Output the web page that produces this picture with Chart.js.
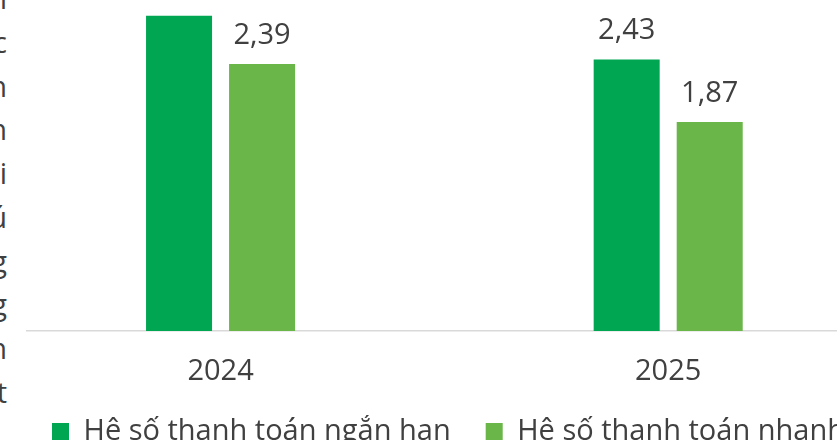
<!DOCTYPE html>
<html><head><meta charset="utf-8">
<script src="https://cdn.jsdelivr.net/npm/chart.js@4/dist/chart.umd.min.js"></script>
<style>
html,body{margin:0;padding:0;background:#fff;overflow:hidden;width:837px;height:440px;position:relative;}
#c{position:absolute;left:-20px;top:-40px;}
#side{position:absolute;left:0;top:0;width:26px;height:440px;background:#fff;overflow:hidden;z-index:2;}
#side div{position:absolute;right:19px;font-family:"Open Sans";font-size:29px;color:#404040;white-space:nowrap;line-height:1;}
</style></head><body>
<canvas id="c" width="937" height="496"></canvas>
<div id="side"></div>
<script>
const categories = ['2024', '2025'];
const seriesNames = ['Hệ số thanh toán ngắn hạn', 'Hệ số thanh toán nhanh'];
const shortTerm = [2.82, 2.43];
const quick = [2.39, 1.87];
const seriesColors = ['#00A651', '#6AB648'];
const sideLetters = ['n', 'c', 'n', 'n', 'i', 'ú', 'g', 'g', 'n', 't'];

const side = document.getElementById('side');
sideLetters.forEach((ch, i) => {
  const d = document.createElement('div');
  d.textContent = ch;
  d.style.top = (i * 43.75 - 17) + 'px';
  side.appendChild(d);
});

const FONT = '"Open Sans"';
const TEXT = '#404040';

const valueLabels = {
  id: 'valueLabels',
  afterDatasetsDraw(chart) {
    const ctx = chart.ctx;
    ctx.save();
    ctx.font = '29px ' + FONT;
    ctx.fillStyle = TEXT;
    ctx.textAlign = 'center';
    ctx.textBaseline = 'alphabetic';
    chart.data.datasets.forEach((ds, di) => {
      chart.getDatasetMeta(di).data.forEach((el, i) => {
        const v = ds.data[i];
        ctx.fillText(v.toFixed(2).replace('.', ','), el.x, el.y - 20);
      });
    });
    ctx.restore();
  }
};

const chart = new Chart(document.getElementById('c'), {
  type: 'bar',
  data: {
    labels: categories,
    datasets: [
      { label: seriesNames[0], data: shortTerm, backgroundColor: seriesColors[0] },
      { label: seriesNames[1], data: quick, backgroundColor: seriesColors[1] }
    ]
  },
  options: {
    responsive: false,
    animation: false,
    devicePixelRatio: 1,
    layout: { padding: 0 },
    datasets: { bar: { categoryPercentage: 0.371, barPercentage: 0.795 } },
    plugins: {
      tooltip: { enabled: false },
      legend: {
        position: 'bottom',
        labels: {
          font: { family: FONT, size: 29 },
          color: TEXT,
          boxWidth: 17,
          boxHeight: 17,
          padding: 35
        }
      }
    },
    scales: {
      x: {
        grid: { display: false, drawTicks: false },
        border: { display: true, color: '#d9d9d9', width: 1.5 },
        ticks: { font: { family: FONT, size: 29 }, color: TEXT, padding: 23 },
        afterFit(s) { s.height = 51; }
      },
      y: {
        min: 0, max: 3.32,
        afterFit(s) { s.width = 16.75; },
        ticks: { display: false },
        grid: { display: false },
        border: { display: false }
      },
      yRight: {
        position: 'right',
        display: true,
        afterFit(s) { s.width = 25; },
        ticks: { display: false },
        grid: { display: false },
        border: { display: false }
      }
    }
  },
  plugins: [valueLabels]
});
</script>
</body></html>
